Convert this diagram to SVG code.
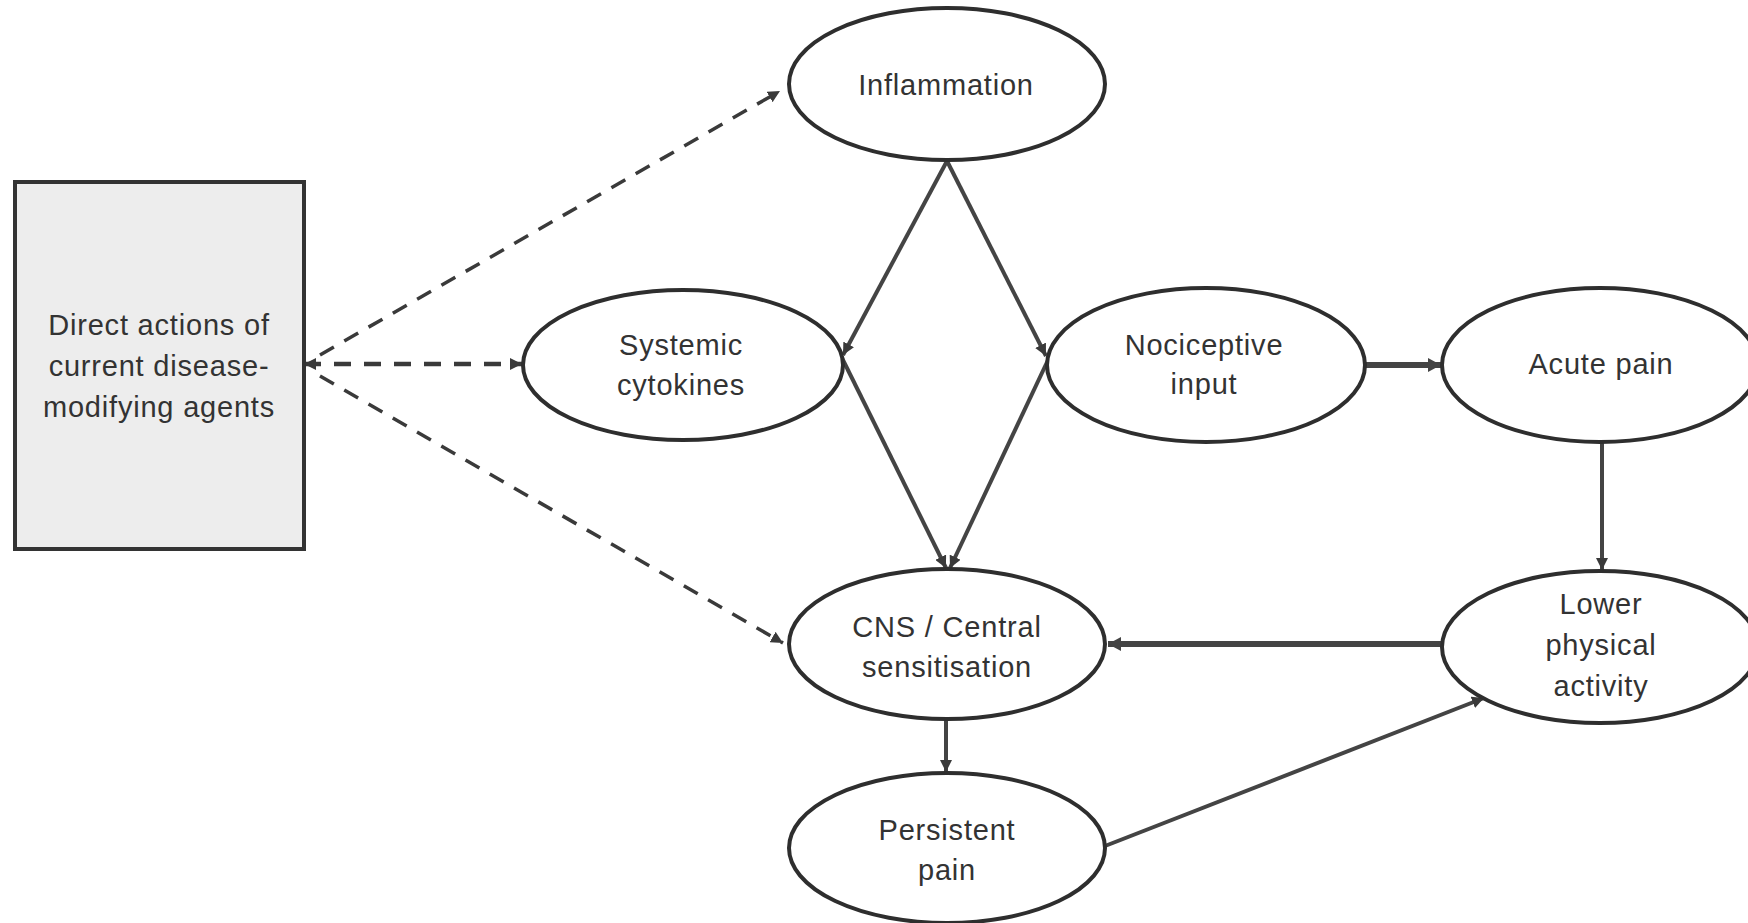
<svg xmlns="http://www.w3.org/2000/svg" width="1748" height="923" viewBox="0 0 1748 923">
<defs>
<style>
.node ellipse{fill:#fff;stroke:#2e2e2e;stroke-width:4}
.lbl{font-family:"Liberation Sans",Arial,sans-serif;font-size:29px;fill:#333;text-anchor:middle;letter-spacing:0.8px}
.dash{stroke:#3a3a3a;stroke-width:3.5;fill:none;stroke-dasharray:16 12}
.dashh{stroke:#3a3a3a;stroke-width:4.5;fill:none;stroke-dasharray:17 13}
.thin{stroke:#444;stroke-width:4;fill:none}
.thick{stroke:#444;stroke-width:6;fill:none}
</style>
<marker id="ah" markerUnits="userSpaceOnUse" markerWidth="14" markerHeight="12" refX="12" refY="6" orient="auto"><path d="M0,0 L12,6 L0,12 z" fill="#3a3a3a"/></marker>
<marker id="ahs" markerUnits="userSpaceOnUse" markerWidth="14" markerHeight="12" refX="12" refY="6" orient="auto-start-reverse"><path d="M0,0 L12,6 L0,12 z" fill="#3a3a3a"/></marker>
<marker id="ahb" markerUnits="userSpaceOnUse" markerWidth="16" markerHeight="16" refX="13" refY="8" orient="auto"><path d="M0,1 L13,8 L0,15 z" fill="#444"/></marker>
</defs>
<rect width="1748" height="923" fill="#fff"/>
<g id="connectors">
<line class="dash" x1="320" y1="355" x2="780" y2="91" marker-end="url(#ah)"/>
<line class="dashh" x1="304" y1="364" x2="522" y2="364" marker-start="url(#ahs)" marker-end="url(#ahs)"/>
<line class="dash" x1="320" y1="376" x2="783" y2="643" marker-end="url(#ah)"/>
<line class="thin" x1="947" y1="161" x2="843" y2="355" marker-end="url(#ah)"/>
<line class="thin" x1="947" y1="161" x2="1046" y2="356" marker-end="url(#ah)"/>
<line class="thin" x1="842" y1="358" x2="946" y2="568" marker-end="url(#ah)"/>
<line class="thin" x1="1049" y1="358" x2="950" y2="568" marker-end="url(#ah)"/>
<line class="thick" x1="1366" y1="365" x2="1441" y2="365" marker-end="url(#ahb)"/>
<line class="thin" x1="1602" y1="442" x2="1602" y2="570" marker-end="url(#ah)"/>
<line class="thick" x1="1442" y1="644" x2="1108" y2="644" marker-end="url(#ahb)"/>
<line class="thin" x1="946" y1="719" x2="946" y2="772" marker-end="url(#ah)"/>
<line class="thin" x1="1105" y1="846" x2="1484" y2="698" marker-end="url(#ah)"/>
</g>
<g id="direct-actions">
<rect x="15" y="182" width="289" height="367" fill="#ededed" stroke="#333" stroke-width="4"/>
<text class="lbl" x="159" y="335">Direct actions of</text>
<text class="lbl" x="159" y="376">current disease-</text>
<text class="lbl" x="159" y="417">modifying agents</text>
</g>
<g id="inflammation" class="node">
<ellipse cx="947" cy="84" rx="158" ry="76"/>
<text class="lbl" x="946" y="95">Inflammation</text>
</g>
<g id="systemic-cytokines" class="node">
<ellipse cx="683" cy="365" rx="160" ry="75"/>
<text class="lbl" x="681" y="355">Systemic</text>
<text class="lbl" x="681" y="395">cytokines</text>
</g>
<g id="nociceptive-input" class="node">
<ellipse cx="1206" cy="365" rx="159" ry="77"/>
<text class="lbl" x="1204" y="355">Nociceptive</text>
<text class="lbl" x="1204" y="394">input</text>
</g>
<g id="acute-pain" class="node">
<ellipse cx="1600" cy="365" rx="158" ry="77"/>
<text class="lbl" x="1601" y="374">Acute pain</text>
</g>
<g id="cns" class="node">
<ellipse cx="947" cy="644" rx="158" ry="75"/>
<text class="lbl" x="947" y="637">CNS / Central</text>
<text class="lbl" x="947" y="677">sensitisation</text>
</g>
<g id="lower-activity" class="node">
<ellipse cx="1600" cy="647" rx="158" ry="76"/>
<text class="lbl" x="1601" y="614">Lower</text>
<text class="lbl" x="1601" y="655">physical</text>
<text class="lbl" x="1601" y="696">activity</text>
</g>
<g id="persistent-pain" class="node">
<ellipse cx="947" cy="848" rx="158" ry="75"/>
<text class="lbl" x="947" y="840">Persistent</text>
<text class="lbl" x="947" y="880">pain</text>
</g>
</svg>
